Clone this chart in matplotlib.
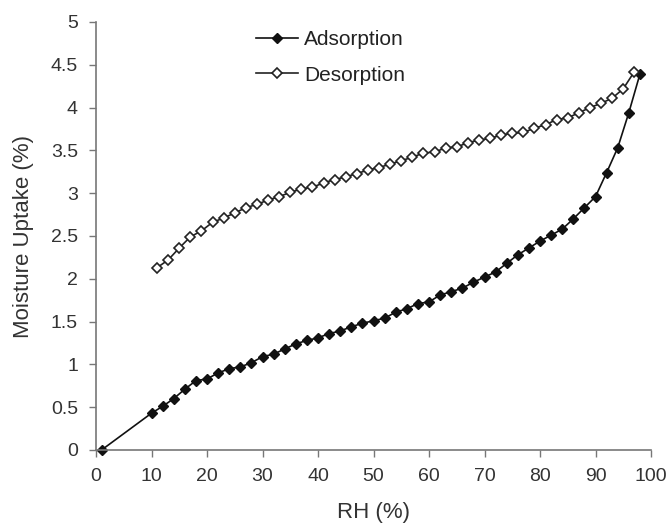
import matplotlib
matplotlib.use("Agg")
import matplotlib.pyplot as plt

plt.rcParams["font.family"] = ["Liberation Sans", "DejaVu Sans"]

# adsorption branch
ads_rh = [1, 10, 12, 14, 16, 18, 20, 22, 24, 26, 28, 30, 32, 34, 36, 38, 40,
          42, 44, 46, 48, 50, 52, 54, 56, 58, 60, 62, 64, 66, 68, 70, 72, 74,
          76, 78, 80, 82, 84, 86, 88, 90, 92, 94, 96, 98]
ads_uptake = [0, 0.43, 0.51, 0.60, 0.71, 0.81, 0.83, 0.90, 0.95, 0.97, 1.02,
              1.09, 1.12, 1.18, 1.24, 1.28, 1.31, 1.36, 1.39, 1.44, 1.48, 1.51,
              1.54, 1.61, 1.65, 1.71, 1.73, 1.81, 1.85, 1.89, 1.96, 2.02, 2.08,
              2.18, 2.28, 2.36, 2.44, 2.51, 2.58, 2.70, 2.83, 2.96, 3.24, 3.53,
              3.94, 4.39]

# desorption branch
des_rh = [11, 13, 15, 17, 19, 21, 23, 25, 27, 29, 31, 33, 35, 37, 39, 41, 43,
          45, 47, 49, 51, 53, 55, 57, 59, 61, 63, 65, 67, 69, 71, 73, 75, 77,
          79, 81, 83, 85, 87, 89, 91, 93, 95, 97]
des_uptake = [2.13, 2.22, 2.36, 2.49, 2.56, 2.66, 2.71, 2.77, 2.83, 2.87, 2.92,
              2.96, 3.01, 3.05, 3.07, 3.12, 3.16, 3.19, 3.23, 3.27, 3.30, 3.34,
              3.38, 3.42, 3.47, 3.48, 3.53, 3.54, 3.59, 3.62, 3.64, 3.68, 3.70,
              3.71, 3.76, 3.80, 3.86, 3.88, 3.94, 4.00, 4.05, 4.11, 4.22, 4.42]

fig = plt.figure(figsize=(6.7, 5.29), dpi=100)
ax = fig.add_axes([96 / 670, 79 / 529, 555 / 670, 428 / 529])

ax.plot(ads_rh, ads_uptake, color="#111111", lw=1.2, marker="D", ms=5.5,
        mfc="#111111", mec="#111111", label="Adsorption", clip_on=False)
ax.plot(des_rh, des_uptake, color="#222222", lw=1.2, marker="D", ms=5,
        mfc="white", mec="#222222", mew=1.2, label="Desorption", clip_on=False)

ax.set_xlim(0, 100)
ax.set_ylim(0, 5)
ax.set_xticks(range(0, 101, 10))
ax.set_yticks([0, 0.5, 1, 1.5, 2, 2.5, 3, 3.5, 4, 4.5, 5])
ax.set_yticklabels(["0", "0.5", "1", "1.5", "2", "2.5", "3", "3.5", "4", "4.5", "5"])

for side in ["top", "right"]:
    ax.spines[side].set_visible(False)
for side in ["left", "bottom"]:
    ax.spines[side].set_color("#777777")
    ax.spines[side].set_linewidth(1.2)
ax.tick_params(direction="out", length=5, width=1, color="#777777",
               labelsize=14, labelcolor="#333333", pad=8)

ax.set_xlabel("RH (%)", fontsize=16, color="#333333", labelpad=12)
ax.set_ylabel("Moisture Uptake (%)", fontsize=16, color="#333333", labelpad=12)

ax.legend(loc="upper left", bbox_to_anchor=(0.255, 1.025), frameon=False,
          fontsize=15, handlelength=2.0, handletextpad=0.3, labelspacing=0.8,
          labelcolor="#222222")

fig.savefig("out.png", dpi=100)
